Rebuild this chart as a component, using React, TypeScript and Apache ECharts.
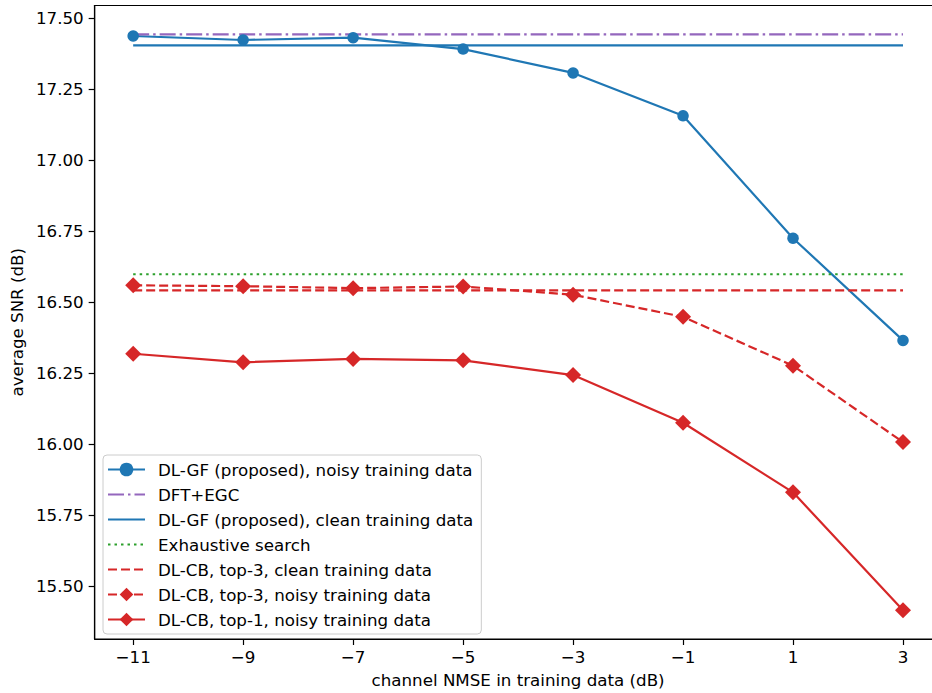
import React, { useEffect, useRef } from "react";
import * as echarts from "echarts";

// channel NMSE of the training data (dB)
const nmseValues = [-11, -9, -7, -5, -3, -1, 1, 3];
const xTickValues = [-11, -9, -7, -5, -3, -1, 1, 3];
const yTickValues = [15.5, 15.75, 16.0, 16.25, 16.5, 16.75, 17.0, 17.25, 17.5];

// average SNR (dB)
const dlgfNoisy = [17.437, 17.423, 17.431, 17.391, 17.307, 17.156, 16.725, 16.365];
const dftEgc = 17.443;
const dlgfClean = 17.404;
const exhaustive = 16.598;
const dlcbTop3Clean = 16.541;
const dlcbTop3Noisy = [16.559, 16.556, 16.549, 16.555, 16.526, 16.448, 16.276, 16.007];
const dlcbTop1Noisy = [16.318, 16.288, 16.3, 16.295, 16.243, 16.075, 15.83, 15.415];

const names = [
  "DL-GF (proposed), noisy training data",
  "DFT+EGC",
  "DL-GF (proposed), clean training data",
  "Exhaustive search",
  "DL-CB, top-3, clean training data",
  "DL-CB, top-3, noisy training data",
  "DL-CB, top-1, noisy training data",
];

const BLUE = "#1f77b4";
const PURPLE = "#9467bd";
const GREEN = "#2ca02c";
const RED = "#d62728";
const FONT = "DejaVu Sans";
const LW = 2.2;

const pairs = (ys: number[]) => nmseValues.map((x, i) => [x, ys[i]]);
const flat = (v: number) => [
  [nmseValues[0], v],
  [nmseValues[nmseValues.length - 1], v],
];

// axis limits padded by 5% of the data span
const allY = [...dlgfNoisy, dftEgc, dlgfClean, exhaustive, dlcbTop3Clean, ...dlcbTop3Noisy, ...dlcbTop1Noisy];
const yLo = Math.min(...allY);
const yHi = Math.max(...allY);
const yPad = (yHi - yLo) * 0.05;
const xPad = (nmseValues[nmseValues.length - 1] - nmseValues[0]) * 0.05;

const minus = (v: number, digits: number) => {
  const s = Math.abs(v).toFixed(digits);
  return v < 0 ? "\u2212" + s : s;
};

export default function App() {
  const ref = useRef<HTMLDivElement>(null);

  useEffect(() => {
    if (!ref.current) return;
    const chart = echarts.init(ref.current, undefined, { renderer: "svg" });

    const lineSeries = (
      name: string,
      data: number[][],
      color: string,
      type: any,
      symbol: string,
      symbolSize: number
    ) => {
      const marked = symbol !== "none";
      return {
        name,
        type: "line",
        data,
        symbol: marked ? symbol : "circle",
        symbolSize,
        showSymbol: marked,
        // line-only entries keep an invisible symbol so the legend shows a bare line
        itemStyle: { color, opacity: marked ? 1 : 0 },
        lineStyle: { color, width: LW, type, cap: "butt", opacity: 1 },
        emphasis: { disabled: true },
        clip: false,
      };
    };

    chart.setOption({
      animation: false,
      backgroundColor: "#ffffff",
      textStyle: { fontFamily: FONT },
      grid: {
        left: 93.5,
        right: 0.5,
        top: 5.5,
        bottom: 51,
        show: true,
        borderColor: "#000",
        borderWidth: 1.2,
        backgroundColor: "transparent",
      },
      xAxis: {
        type: "value",
        min: nmseValues[0] - xPad,
        max: nmseValues[nmseValues.length - 1] + xPad,
        name: "channel NMSE in training data (dB)",
        nameLocation: "middle",
        nameGap: 32,
        nameTextStyle: { fontFamily: FONT, fontSize: 16.7, color: "#000" },
        axisLine: { show: true, onZero: false, lineStyle: { color: "#000", width: 1.2 } },
        axisTick: { show: true, length: 6, customValues: xTickValues, lineStyle: { color: "#000", width: 1.2 } },
        axisLabel: {
          customValues: xTickValues,
          formatter: (v: number) => minus(v, 0),
          fontFamily: FONT,
          fontSize: 16.7,
          color: "#000",
          margin: 9,
        },
        splitLine: { show: false },
      },
      yAxis: {
        type: "value",
        min: yLo - yPad,
        max: yHi + yPad,
        name: "average SNR (dB)",
        nameLocation: "middle",
        nameGap: 64,
        nameTextStyle: { fontFamily: FONT, fontSize: 16.7, color: "#000" },
        axisLine: { show: true, onZero: false, lineStyle: { color: "#000", width: 1.2 } },
        axisTick: { show: true, length: 6, customValues: yTickValues, lineStyle: { color: "#000", width: 1.2 } },
        axisLabel: {
          customValues: yTickValues,
          formatter: (v: number) => minus(v, 2),
          fontFamily: FONT,
          fontSize: 16.7,
          color: "#000",
          margin: 11,
        },
        splitLine: { show: false },
      },
      legend: {
        orient: "vertical",
        left: 103,
        top: 455,
        data: names,
        padding: [6, 8, 6, 4],
        itemGap: 8,
        itemWidth: 37,
        itemHeight: 17,
        backgroundColor: "rgba(255,255,255,0.8)",
        borderColor: "#cccccc",
        borderWidth: 1,
        borderRadius: 4,
        selectedMode: false,
        textStyle: { fontFamily: FONT, fontSize: 16.7, color: "#000", padding: [0, 0, 0, 8] },
      },
      series: [
        lineSeries(names[0], pairs(dlgfNoisy), BLUE, "solid", "circle", 11.5),
        lineSeries(names[1], flat(dftEgc), PURPLE, [16, 4, 2.5, 4], "none", 0),
        lineSeries(names[2], flat(dlgfClean), BLUE, "solid", "none", 0),
        lineSeries(names[3], flat(exhaustive), GREEN, [2.5, 4], "none", 0),
        lineSeries(names[4], flat(dlcbTop3Clean), RED, [9, 4], "none", 0),
        lineSeries(names[5], pairs(dlcbTop3Noisy), RED, [9, 4], "diamond", 16),
        lineSeries(names[6], pairs(dlcbTop1Noisy), RED, "solid", "diamond", 16),
      ],
    });

    return () => chart.dispose();
  }, []);

  return (
    <div
      ref={ref}
      style={{ position: "fixed", left: 0, top: 0, width: 942, height: 693, background: "#fff" }}
    />
  );
}
